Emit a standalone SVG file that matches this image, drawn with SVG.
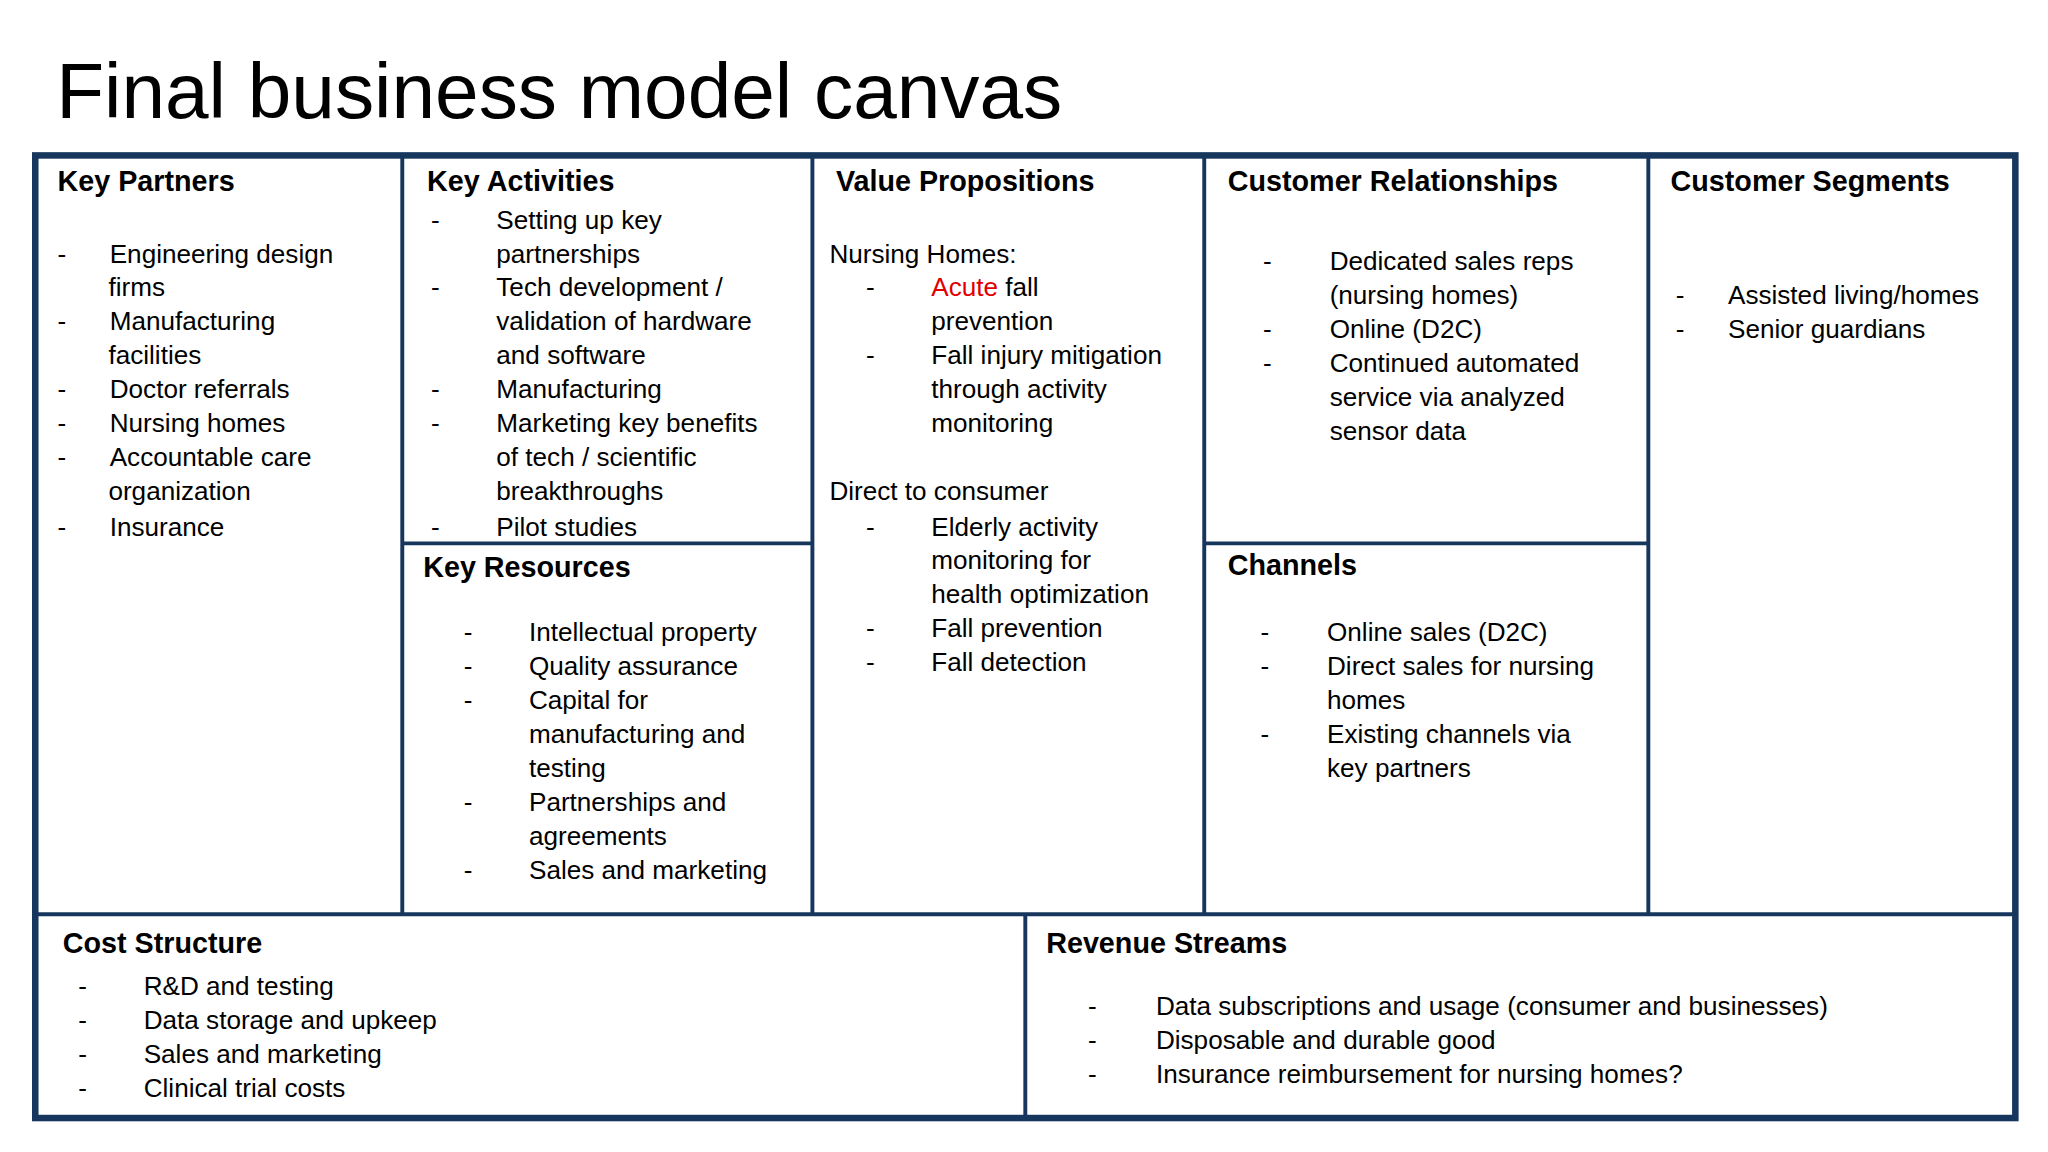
<svg xmlns="http://www.w3.org/2000/svg" width="2048" height="1152" viewBox="0 0 2048 1152">
<style>
text{font-family:"Liberation Sans",Arial,sans-serif;fill:#000}
.t{font-size:60px}
.h{font-size:22px;font-weight:bold}
.b{font-size:20px}
.ln{stroke:#17365d;stroke-width:3;fill:none}
.red{fill:#e00000}
</style>
<rect width="2048" height="1152" fill="#fff"/>
<g transform="scale(1.30612)">
<text class="t" x="43" y="90">Final business model canvas</text>
<g id="connectors">
<rect class="ln" x="27" y="119" width="1516" height="737" style="stroke-width:5"/>
<line class="ln" x1="308" y1="119" x2="308" y2="700"/>
<line class="ln" x1="622" y1="119" x2="622" y2="700"/>
<line class="ln" x1="922" y1="119" x2="922" y2="700"/>
<line class="ln" x1="1262" y1="119" x2="1262" y2="700"/>
<line class="ln" x1="27" y1="700" x2="1543" y2="700"/>
<line class="ln" x1="308" y1="416" x2="622" y2="416"/>
<line class="ln" x1="922" y1="416" x2="1262" y2="416"/>
<line class="ln" x1="785" y1="700" x2="785" y2="856"/>
</g>
<g id="key-partners" class="b">
<text class="h" x="44" y="146">Key Partners</text>
<text x="44" y="201">-</text><text x="84" y="201">Engineering design</text>
<text x="83" y="227">firms</text>
<text x="44" y="253">-</text><text x="84" y="253">Manufacturing</text>
<text x="83" y="279">facilities</text>
<text x="44" y="305">-</text><text x="84" y="305">Doctor referrals</text>
<text x="44" y="331">-</text><text x="84" y="331">Nursing homes</text>
<text x="44" y="357">-</text><text x="84" y="357">Accountable care</text>
<text x="83" y="383">organization</text>
<text x="44" y="410">-</text><text x="84" y="410">Insurance</text>
</g>
<g id="key-activities" class="b">
<text class="h" x="327" y="146">Key Activities</text>
<text x="330" y="175">-</text><text x="380" y="175">Setting up key</text>
<text x="380" y="201">partnerships</text>
<text x="330" y="227">-</text><text x="380" y="227">Tech development /</text>
<text x="380" y="253">validation of hardware</text>
<text x="380" y="279">and software</text>
<text x="330" y="305">-</text><text x="380" y="305">Manufacturing</text>
<text x="330" y="331">-</text><text x="380" y="331">Marketing key benefits</text>
<text x="380" y="357">of tech / scientific</text>
<text x="380" y="383">breakthroughs</text>
<text x="330" y="410">-</text><text x="380" y="410">Pilot studies</text>
</g>
<g id="key-resources" class="b">
<text class="h" x="324" y="442">Key Resources</text>
<text x="355" y="491">-</text><text x="405" y="491">Intellectual property</text>
<text x="355" y="517">-</text><text x="405" y="517">Quality assurance</text>
<text x="355" y="543">-</text><text x="405" y="543">Capital for</text>
<text x="405" y="569">manufacturing and</text>
<text x="405" y="595">testing</text>
<text x="355" y="621">-</text><text x="405" y="621">Partnerships and</text>
<text x="405" y="647">agreements</text>
<text x="355" y="673">-</text><text x="405" y="673">Sales and marketing</text>
</g>
<g id="value-propositions" class="b">
<text class="h" x="640" y="146">Value Propositions</text>
<text x="635" y="201">Nursing Homes:</text>
<text x="663" y="227">-</text><text x="713" y="227"><tspan class="red">Acute</tspan> fall</text>
<text x="713" y="253">prevention</text>
<text x="663" y="279">-</text><text x="713" y="279">Fall injury mitigation</text>
<text x="713" y="305">through activity</text>
<text x="713" y="331">monitoring</text>
<text x="635" y="383">Direct to consumer</text>
<text x="663" y="410">-</text><text x="713" y="410">Elderly activity</text>
<text x="713" y="436">monitoring for</text>
<text x="713" y="462">health optimization</text>
<text x="663" y="488">-</text><text x="713" y="488">Fall prevention</text>
<text x="663" y="514">-</text><text x="713" y="514">Fall detection</text>
</g>
<g id="customer-relationships" class="b">
<text class="h" x="940" y="146">Customer Relationships</text>
<text x="967" y="207">-</text><text x="1018" y="207">Dedicated sales reps</text>
<text x="1018" y="233">(nursing homes)</text>
<text x="967" y="259">-</text><text x="1018" y="259">Online (D2C)</text>
<text x="967" y="285">-</text><text x="1018" y="285">Continued automated</text>
<text x="1018" y="311">service via analyzed</text>
<text x="1018" y="337">sensor data</text>
</g>
<g id="channels" class="b">
<text class="h" x="940" y="440">Channels</text>
<text x="965" y="491">-</text><text x="1016" y="491">Online sales (D2C)</text>
<text x="965" y="517">-</text><text x="1016" y="517">Direct sales for nursing</text>
<text x="1016" y="543">homes</text>
<text x="965" y="569">-</text><text x="1016" y="569">Existing channels via</text>
<text x="1016" y="595">key partners</text>
</g>
<g id="customer-segments" class="b">
<text class="h" x="1279" y="146">Customer Segments</text>
<text x="1283" y="233">-</text><text x="1323" y="233">Assisted living/homes</text>
<text x="1283" y="259">-</text><text x="1323" y="259">Senior guardians</text>
</g>
<g id="cost-structure" class="b">
<text class="h" x="48" y="730">Cost Structure</text>
<text x="60" y="762">-</text><text x="110" y="762">R&amp;D and testing</text>
<text x="60" y="788">-</text><text x="110" y="788">Data storage and upkeep</text>
<text x="60" y="814">-</text><text x="110" y="814">Sales and marketing</text>
<text x="60" y="840">-</text><text x="110" y="840">Clinical trial costs</text>
</g>
<g id="revenue-streams" class="b">
<text class="h" x="801" y="730">Revenue Streams</text>
<text x="833" y="777">-</text><text x="885" y="777">Data subscriptions and usage (consumer and businesses)</text>
<text x="833" y="803">-</text><text x="885" y="803">Disposable and durable good</text>
<text x="833" y="829">-</text><text x="885" y="829">Insurance reimbursement for nursing homes?</text>
</g>
</g>
</svg>
